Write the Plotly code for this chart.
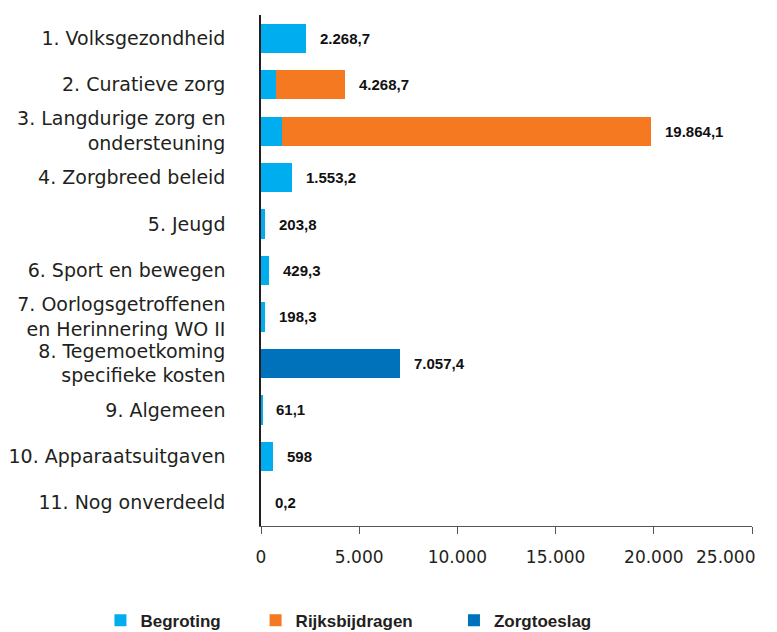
import plotly.graph_objects as go

categories = [
    "1. Volksgezondheid",
    "2. Curatieve zorg",
    "3. Langdurige zorg en<br>ondersteuning",
    "4. Zorgbreed beleid",
    "5. Jeugd",
    "6. Sport en bewegen",
    "7. Oorlogsgetroffenen<br>en Herinnering WO II",
    "8. Tegemoetkoming<br>specifieke kosten",
    "9. Algemeen",
    "10. Apparaatsuitgaven",
    "11. Nog onverdeeld",
]
begroting = [2268.7, 780.0, 1050.0, 1553.2, 203.8, 429.3, 198.3, 0, 61.1, 598, 0.2]
rijksbijdragen = [0, 3488.7, 18814.1, 0, 0, 0, 0, 0, 0, 0, 0]
zorgtoeslag = [0, 0, 0, 0, 0, 0, 0, 7057.4, 0, 0, 0]
value_labels = ["2.268,7", "4.268,7", "19.864,1", "1.553,2", "203,8", "429,3",
                "198,3", "7.057,4", "61,1", "598", "0,2"]
tick_vals = [0, 5000, 10000, 15000, 20000, 25000]
tick_text = ["0", "5.000", "10.000", "15.000", "20.000", "25.000"]

TEXT = "#231f20"
LABEL_FONT = "DejaVu Sans, Verdana, sans-serif"
BOLD_FONT = "Liberation Sans, Arial, sans-serif"

fig = go.Figure()
fig.add_trace(go.Bar(y=categories, x=begroting, name="Begroting", orientation="h",
                     marker=dict(color="#00aeef", line=dict(width=0)), legend="legend"))
fig.add_trace(go.Bar(y=categories, x=rijksbijdragen, name="Rijksbijdragen", orientation="h",
                     marker=dict(color="#f47920", line=dict(width=0)), legend="legend2"))
fig.add_trace(go.Bar(y=categories, x=zorgtoeslag, name="Zorgtoeslag", orientation="h",
                     marker=dict(color="#0071bb", line=dict(width=0)), legend="legend3"))

totals = [b + r + z for b, r, z in zip(begroting, rijksbijdragen, zorgtoeslag)]
for cat, tot, lab in zip(categories, totals, value_labels):
    fig.add_annotation(x=tot, y=cat, text="<b>%s</b>" % lab, showarrow=False,
                       xanchor="left", xshift=12,
                       font=dict(family=BOLD_FONT, size=15, color="#111111"))

# last tick label sits left of its tick in the original, so it is drawn
# as an annotation anchored at the last tick value
display_ticks = tick_text[:-1] + [""]
fig.add_annotation(x=tick_vals[-1], xref="x", y=0, yref="paper", text=tick_text[-1],
                   showarrow=False, xanchor="right", yanchor="middle", xshift=5, yshift=-31,
                   font=dict(family=LABEL_FONT, size=17, color=TEXT))

legend_font = dict(size=17, color=TEXT, family=BOLD_FONT, weight="bold")


def leg(x):
    return dict(orientation="h", x=x, xanchor="left", y=-0.15, yanchor="top",
                font=legend_font, bgcolor="rgba(0,0,0,0)")


# page body has an 8px default margin, so the figure is 8px smaller on each axis
fig.update_layout(
    width=769, height=624,
    barmode="stack", bargap=0.37,
    plot_bgcolor="white", paper_bgcolor="white",
    margin=dict(l=253, r=25, t=7, b=106, autoexpand=False),
    font=dict(family=LABEL_FONT, color=TEXT),
    showlegend=True,
    legend=leg(-0.327),
    legend2=leg(-0.011),
    legend3=leg(0.393),
)
fig.update_yaxes(autorange="reversed", showline=True, linecolor="#231f20", linewidth=1.5,
                 ticks="", ticklabelstandoff=30, tickfont=dict(size=19, color=TEXT),
                 showgrid=False, zeroline=False, automargin=False)
fig.update_xaxes(range=[0, 25000], tickvals=tick_vals, ticktext=display_ticks,
                 showline=True, linecolor="#555555", linewidth=1,
                 ticks="outside", ticklen=7, tickcolor="#555555",
                 tickfont=dict(size=17, color=TEXT), showgrid=False, zeroline=False,
                 ticklabelstandoff=9, automargin=False)
fig.write_html("out.html")
